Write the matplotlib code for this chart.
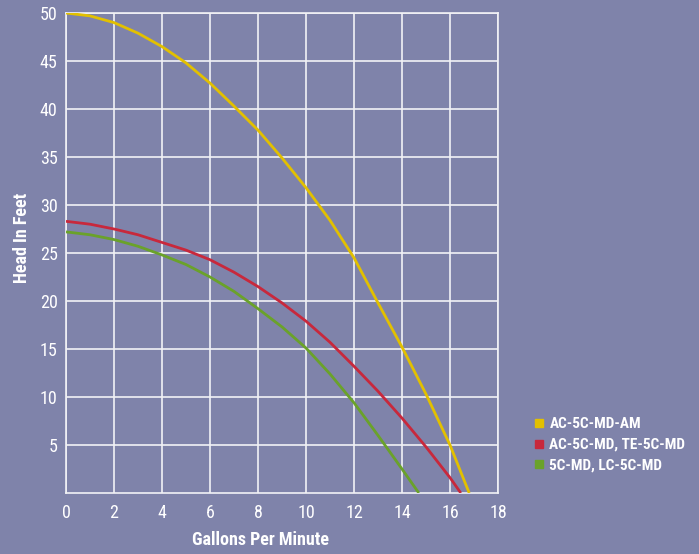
import numpy as np
import matplotlib.pyplot as plt
from matplotlib.lines import Line2D

# pump curves (gpm vs head in feet)
gpm_am = [0, 1, 2, 3, 4, 5, 6, 7, 8, 9, 10, 11, 12, 13, 14, 15, 16, 16.8]
head_am = [50, 49.7, 49.0, 47.9, 46.5, 44.8, 42.7, 40.3, 37.8, 34.9, 31.8, 28.4, 24.5, 19.8, 15.2, 10.3, 5.0, 0]

gpm_te = [0, 1, 2, 3, 4, 5, 6, 7, 8, 9, 10, 11, 12, 13, 14, 15, 16, 16.45]
head_te = [28.3, 28.0, 27.5, 26.9, 26.1, 25.3, 24.3, 23.0, 21.5, 19.8, 17.9, 15.7, 13.2, 10.6, 7.8, 4.8, 1.6, 0]

gpm_lc = [0, 1, 2, 3, 4, 5, 6, 7, 8, 9, 10, 11, 12, 13, 14, 14.7]
head_lc = [27.2, 26.9, 26.4, 25.7, 24.8, 23.8, 22.5, 21.0, 19.2, 17.3, 15.1, 12.4, 9.4, 6.0, 2.5, 0]

labels = ['AC-5C-MD-AM', 'AC-5C-MD, TE-5C-MD', '5C-MD, LC-5C-MD']
colors = ['#E2C000', '#C8283C', '#6AA22A']

xticks = [0, 2, 4, 6, 8, 10, 12, 14, 16, 18]
yticks = [5, 10, 15, 20, 25, 30, 35, 40, 45, 50]

bg = '#7F83AA'
grid_col = '#F2F2F6'
font_cond = ['Roboto Condensed', 'DejaVu Sans']

fig = plt.figure(figsize=(6.99, 5.54), dpi=100, facecolor=bg)
ax = fig.add_axes([66/699, 1 - 493/554, 432/699, 480/554])
ax.set_facecolor(bg)

ax.plot(gpm_am, head_am, color=colors[0], lw=2.0, solid_capstyle='butt', zorder=3)
ax.plot(gpm_te, head_te, color=colors[1], lw=2.0, solid_capstyle='butt', zorder=3)
ax.plot(gpm_lc, head_lc, color=colors[2], lw=2.0, solid_capstyle='butt', zorder=3)

ax.set_xlim(0, 18)
ax.set_ylim(0, 50)
ax.set_xticks(xticks)
ax.set_yticks(yticks)
ax.grid(True, color=grid_col, lw=1.2)
ax.set_axisbelow(True)
for s in ax.spines.values():
    s.set_color(grid_col)
    s.set_linewidth(1.2)
ax.tick_params(length=0, colors='white', labelsize=13)
ax.tick_params(axis='x', pad=8)
ax.tick_params(axis='y', pad=6)
for t in ax.get_xticklabels() + ax.get_yticklabels():
    t.set_family(font_cond)

fig.text(260/699, 1 - 540/554, 'Gallons Per Minute', color='white', fontsize=13,
         fontweight='bold', family=font_cond, ha='center', va='center')
fig.text(22/699, 1 - 238/554, 'Head In Feet', color='white', fontsize=13,
         fontweight='bold', family=font_cond, ha='center', va='center', rotation=90)

handles = [Line2D([], [], ls='none', marker='s', markersize=6, color=c) for c in colors]
fig.legend(handles, labels, loc='upper left', bbox_to_anchor=(531/699, 1 - 414/554),
           frameon=False, handletextpad=0.4, labelspacing=0.45, handlelength=0.6,
           borderpad=0.2, borderaxespad=0, prop={'family': font_cond, 'weight': 'bold', 'size': 11},
           labelcolor='white')

fig.savefig('out.png', dpi=100, facecolor=bg)
